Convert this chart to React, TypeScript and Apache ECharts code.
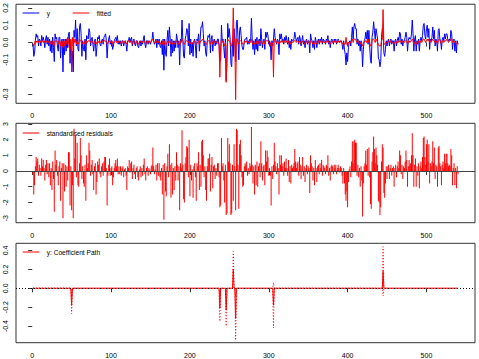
import React, { useEffect, useRef } from "react";
import * as echarts from "echarts";

const xTicks = [0, 100, 200, 300, 400, 500];
const yTicks1 = [-0.3, -0.2, -0.1, 0, 0.1, 0.2];
const yLabels1 = [-0.3, -0.1, 0, 0.1, 0.2];
const yTicks2 = [-3, -2, -1, 0, 1, 2, 3];
const yTicks3 = [-0.4, -0.2, 0, 0.2, 0.4];

const legend1 = ["y", "fitted"];
const legend2 = ["standardised residuals"];
const legend3 = ["y: Coefficient Path"];

// observed series y (t = 1..540)
const yObs = [
  -0.01, -0.08, -0.06, 0.01, 0.05, 0.03, 0.04, -0.02, 0.02, 0.01,
  -0.02, 0.04, 0.01, 0.03, 0.01, -0.03, 0.02, 0.04, -0.01, 0.03,
  -0.02, 0.02, -0.05, 0.01, -0.06, 0.03, -0.03, -0.11, 0.05, 0.02,
  0.03, -0.02, -0.05, 0.03, 0.03, -0.09, 0.01, 0.02, -0.17, 0.02,
  -0.07, 0.02, -0.05, 0.02, -0.03, 0.05, 0.06, -0.12, 0.01, -0.17,
  -0.05, -0.17, 0.07, 0.03, 0.13, -0.02, 0.08, -0.04, -0.05, 0.09,
  0.11, 0.05, -0.08, 0.01, -0.04, -0.05, 0.02, -0.10, 0.04, 0.03,
  0.02, 0.08, 0.06, -0.02, 0.02, 0.03, -0.01, -0.05, 0.01, 0.02,
  -0.08, -0.03, 0.03, 0.02, 0.04, -0.01, -0.02, 0.01, 0.02, -0.01,
  0.03, 0.04, 0.05, 0.01, -0.09, -0.01, 0.02, 0.04, -0.01, 0.01,
  0.01, -0.04, -0.02, 0.01, 0.02, 0.03, 0.01, 0.04, -0.01, 0.01,
  -0.01, 0.01, -0.02, 0.01, 0.01, -0.02, 0.00, 0.01, -0.01, -0.05,
  0.01, 0.01, 0.03, 0.00, 0.02, 0.03, -0.02, 0.01, 0.02, -0.01,
  -0.02, 0.01, 0.01, -0.02, -0.03, 0.00, 0.01, -0.02, 0.01, -0.01,
  0.02, 0.04, -0.01, -0.03, 0.01, 0.01, -0.01, 0.01, 0.00, -0.01,
  0.01, 0.02, 0.06, 0.01, -0.01, 0.00, 0.02, -0.03, 0.02, -0.01,
  0.02, -0.02, -0.03, 0.01, -0.07, 0.02, -0.16, 0.02, -0.06, -0.08,
  0.01, 0.07, -0.02, 0.09, 0.02, -0.08, 0.02, -0.06, 0.01, -0.05,
  0.01, -0.03, 0.05, 0.02, -0.03, 0.01, -0.13, 0.02, 0.01, 0.13,
  0.02, -0.08, -0.09, 0.02, 0.04, 0.08, 0.07, -0.02, 0.11, -0.07,
  0.02, -0.06, 0.00, -0.08, 0.01, 0.02, -0.02, -0.09, 0.02, 0.01,
  0.05, -0.05, 0.02, 0.09, 0.09, 0.12, 0.05, -0.02, 0.01, -0.06,
  -0.08, 0.01, 0.04, 0.03, 0.05, -0.06, 0.02, 0.04, -0.05, 0.01,
  0.02, -0.02, 0.01, -0.01, 0.02, 0.02, -0.02, -0.11, -0.10, 0.10,
  0.01, 0.02, -0.03, -0.09, 0.02, -0.22, -0.12, 0.11, 0.03, 0.08,
  0.02, -0.12, -0.14, 0.02, -0.08, 0.08, 0.01, -0.11, 0.12, 0.13,
  0.02, -0.10, 0.07, 0.09, 0.04, -0.02, -0.04, -0.04, 0.01, 0.02,
  0.02, 0.03, -0.01, 0.01, -0.01, 0.02, 0.01, 0.14, 0.02, -0.04,
  0.01, -0.07, 0.02, -0.04, 0.03, -0.05, 0.01, 0.02, -0.02, 0.08,
  0.02, -0.03, 0.01, 0.02, -0.04, 0.06, 0.03, 0.06, 0.04, -0.01,
  0.01, -0.01, -0.10, 0.01, -0.02, 0.02, 0.08, 0.03, 0.01, -0.01,
  0.02, 0.01, -0.07, 0.05, 0.02, 0.05, 0.01, 0.02, -0.01, 0.03,
  0.01, 0.04, 0.01, -0.01, 0.03, -0.03, 0.01, -0.04, 0.02, 0.01,
  0.01, 0.02, 0.06, 0.03, 0.01, 0.02, 0.03, -0.01, 0.04, 0.02,
  -0.02, 0.01, 0.04, -0.01, 0.01, -0.03, 0.01, 0.02, -0.01, 0.01,
  0.01, -0.06, 0.05, 0.02, 0.01, -0.03, 0.01, -0.04, 0.03, 0.01,
  -0.03, 0.01, 0.02, -0.01, 0.02, 0.01, 0.03, -0.01, 0.02, 0.01,
  0.01, -0.01, 0.02, 0.01, 0.04, -0.01, 0.01, -0.03, 0.01, 0.02,
  0.01, -0.01, 0.02, 0.01, 0.02, -0.01, 0.01, 0.02, 0.01, 0.00,
  0.01, 0.01, -0.01, -0.04, 0.01, -0.04, -0.07, -0.13, -0.06, -0.11,
  -0.03, 0.00, 0.01, -0.02, 0.03, 0.09, 0.02, 0.09, 0.11, 0.08,
  0.08, -0.01, 0.02, -0.02, 0.01, -0.05, 0.01, -0.03, -0.14, -0.04,
  0.01, 0.02, 0.06, 0.02, 0.07, -0.01, 0.07, -0.02, -0.10, -0.12,
  0.03, 0.06, 0.12, 0.07, 0.02, 0.08, 0.05, 0.02, -0.09, -0.10,
  -0.14, -0.11, 0.03, 0.08, 0.07, -0.06, -0.08, -0.04, 0.01, -0.02,
  0.01, 0.02, -0.02, 0.01, 0.02, -0.01, 0.01, 0.01, -0.05, 0.01,
  0.02, -0.02, 0.01, 0.03, 0.01, 0.06, 0.05, -0.01, 0.02, -0.02,
  0.01, 0.01, 0.03, 0.06, 0.03, -0.05, 0.01, 0.03, 0.02, 0.02,
  0.05, 0.13, 0.05, -0.05, 0.02, 0.04, -0.05, 0.01, -0.01, 0.02,
  -0.05, 0.01, 0.03, 0.01, 0.04, 0.10, 0.11, 0.04, 0.02, 0.08,
  0.10, 0.03, 0.08, -0.04, 0.02, 0.01, 0.03, 0.09, 0.02, 0.07,
  -0.02, 0.02, 0.01, -0.05, 0.07, 0.08, 0.02, 0.01, -0.04, 0.02,
  0.03, 0.01, 0.05, 0.02, 0.05, 0.05, 0.02, 0.01, 0.02, 0.01,
  0.07, 0.05, -0.04, 0.01, 0.02, -0.05, 0.01, -0.06, 0.01, -0.01,
];

// fitted values
const fitted = [
  -0.01, -0.02, 0.00, 0.01, 0.01, 0.00, 0.01, 0.00, 0.01, 0.01,
  0.00, 0.01, 0.01, 0.00, 0.01, 0.00, 0.01, 0.01, 0.00, 0.01,
  0.00, 0.01, -0.01, 0.00, -0.01, 0.01, 0.00, -0.02, 0.01, 0.01,
  0.01, 0.00, -0.01, 0.01, 0.01, -0.02, 0.00, 0.01, -0.03, 0.01,
  -0.02, 0.01, -0.01, 0.02, 0.03, 0.01, -0.03, -0.04, 0.02, -0.17,
  0.03, -0.02, 0.02, 0.00, 0.02, -0.01, 0.01, 0.00, -0.01, 0.02,
  0.01, 0.01, -0.01, 0.00, 0.00, -0.01, 0.01, -0.01, 0.01, 0.00,
  0.01, 0.01, 0.01, 0.00, 0.00, 0.01, 0.00, -0.01, 0.00, 0.01,
  -0.01, 0.00, 0.01, 0.00, 0.01, 0.00, 0.00, 0.01, 0.01, 0.00,
  0.01, 0.01, 0.01, 0.00, -0.01, 0.00, 0.01, 0.01, 0.00, 0.00,
  0.01, -0.01, 0.00, 0.00, 0.01, 0.01, 0.00, 0.01, 0.00, 0.01,
  0.00, 0.00, -0.01, 0.00, 0.01, 0.00, 0.00, 0.01, 0.00, -0.01,
  0.00, 0.01, 0.01, 0.00, 0.01, 0.01, -0.01, 0.00, 0.01, 0.00,
  -0.01, 0.00, 0.01, 0.00, -0.01, 0.00, 0.01, 0.00, 0.00, 0.00,
  0.01, 0.01, 0.00, -0.01, 0.00, 0.01, 0.00, 0.01, 0.00, 0.00,
  0.01, 0.01, 0.02, 0.01, 0.00, 0.00, 0.01, 0.00, 0.01, 0.00,
  0.01, 0.00, -0.01, 0.00, -0.01, 0.01, -0.02, 0.01, -0.01, -0.01,
  0.00, 0.01, 0.00, 0.01, 0.00, -0.01, 0.01, -0.01, 0.00, -0.01,
  0.00, 0.00, 0.01, 0.00, -0.01, 0.00, -0.02, 0.01, 0.00, 0.02,
  0.01, -0.01, -0.01, 0.00, 0.01, 0.01, 0.01, 0.00, 0.01, -0.01,
  0.00, -0.01, 0.00, -0.01, 0.00, 0.01, 0.00, -0.01, 0.00, 0.00,
  0.01, -0.01, 0.00, 0.01, 0.01, 0.02, 0.01, 0.00, 0.00, -0.01,
  -0.01, 0.00, 0.01, 0.01, 0.01, -0.01, 0.00, 0.01, -0.01, 0.00,
  0.01, 0.00, 0.00, 0.00, 0.01, 0.00, -0.01, -0.20, -0.02, 0.02,
  0.00, 0.01, -0.01, -0.02, 0.00, -0.23, -0.03, 0.02, 0.01, 0.01,
  0.00, -0.02, -0.02, 0.01, 0.20, 0.02, 0.00, -0.33, 0.02, 0.02,
  0.00, -0.01, 0.01, 0.01, 0.01, 0.00, -0.01, -0.01, 0.00, 0.01,
  0.00, 0.01, 0.00, 0.00, 0.00, 0.01, 0.00, 0.02, 0.00, -0.01,
  0.00, -0.01, 0.00, -0.01, 0.01, -0.01, 0.00, 0.01, 0.00, 0.01,
  0.00, -0.01, 0.00, 0.01, -0.01, 0.01, 0.01, 0.01, 0.01, 0.00,
  0.00, 0.00, -0.02, 0.00, -0.01, -0.20, 0.02, 0.01, 0.00, 0.00,
  0.01, 0.00, -0.01, 0.01, 0.00, 0.01, 0.00, 0.01, 0.00, 0.01,
  0.00, 0.01, 0.00, 0.00, 0.01, -0.01, 0.00, -0.01, 0.01, 0.00,
  0.00, 0.01, 0.01, 0.01, 0.00, 0.01, 0.01, 0.00, 0.01, 0.00,
  -0.01, 0.00, 0.01, 0.00, 0.00, -0.01, 0.00, 0.01, 0.00, 0.00,
  0.00, -0.01, 0.01, 0.01, 0.00, -0.01, 0.00, -0.01, 0.01, 0.00,
  -0.01, 0.00, 0.01, 0.00, 0.01, 0.00, 0.01, 0.00, 0.01, 0.00,
  0.00, 0.00, 0.01, 0.00, 0.01, 0.00, 0.00, -0.01, 0.00, 0.01,
  0.00, 0.00, 0.01, 0.00, 0.01, 0.00, 0.00, 0.01, 0.00, 0.00,
  0.01, 0.00, 0.00, -0.01, 0.00, -0.01, -0.01, 0.03, -0.01, -0.02,
  0.00, 0.00, 0.00, 0.00, 0.01, 0.02, 0.00, 0.02, 0.02, 0.02,
  0.01, 0.00, 0.01, 0.00, 0.00, -0.01, 0.00, -0.01, -0.02, 0.00,
  0.00, 0.01, 0.01, 0.00, 0.02, 0.00, 0.02, 0.00, -0.02, -0.02,
  0.01, 0.02, 0.02, 0.01, 0.00, 0.02, 0.01, 0.00, -0.01, -0.02,
  -0.02, -0.02, 0.01, 0.02, 0.19, -0.01, -0.01, 0.00, 0.00, 0.00,
  0.00, 0.01, 0.00, 0.00, 0.01, 0.00, 0.00, 0.00, -0.01, 0.00,
  0.01, 0.00, 0.00, 0.01, 0.00, 0.01, 0.01, 0.00, 0.01, 0.00,
  0.00, 0.00, 0.01, 0.01, 0.01, -0.01, 0.00, 0.01, 0.00, 0.01,
  0.01, 0.02, 0.01, -0.01, 0.00, 0.01, -0.01, 0.00, 0.00, 0.01,
  -0.01, 0.00, 0.01, 0.00, 0.01, 0.02, 0.02, 0.01, 0.00, 0.01,
  0.02, 0.01, 0.02, 0.00, 0.01, 0.00, 0.01, 0.02, 0.01, 0.01,
  0.00, 0.01, 0.00, -0.01, 0.01, 0.02, 0.01, 0.00, -0.01, 0.01,
  0.01, 0.00, 0.01, 0.01, 0.01, 0.02, 0.01, 0.00, 0.01, 0.01,
  0.02, 0.02, 0.00, 0.01, 0.01, 0.00, 0.00, -0.01, 0.00, -0.01,
];

// standardised residuals
const stdResid = [
  -0.2, -1.5, -0.9, 0.3, 0.9, 0.6, 0.8, -0.3, 0.4, 0.2,
  -0.3, 0.8, 0.3, 0.7, 0.2, -0.6, 0.4, 0.7, -0.2, 0.5,
  -0.4, 0.5, -0.9, 0.2, -1.2, 0.6, -0.5, -2.6, 1.3, 0.4,
  0.7, -0.3, -0.9, 0.3, 0.6, -1.9, 0.2, 0.5, -3.0, 0.5,
  -1.3, 0.4, -1.0, 0.3, -0.6, 1.2, 1.2, -2.2, 0.3, -2.5,
  -0.9, -3.0, 2.7, 0.8, 2.3, -0.4, 1.8, -0.9, -1.0, 0.5,
  2.1, 1.0, -0.5, 0.3, -0.8, -1.0, 0.4, -1.9, 1.0, 0.2,
  0.5, 1.8, 1.3, -0.3, 0.4, 0.7, -0.2, -1.2, 0.3, 0.5,
  -1.5, -0.7, 0.6, 0.4, 0.8, -0.2, -0.4, 0.3, 0.5, -0.3,
  0.6, 0.9, 0.9, 0.2, -2.2, -0.3, 0.4, 0.8, -0.3, 0.2,
  0.3, -0.9, -0.4, 0.2, 0.5, 0.7, 0.3, 0.8, -0.2, 0.3,
  -0.2, 0.3, -0.3, 0.2, 0.3, -0.4, 0.1, 0.2, -0.3, -1.2,
  0.3, 0.2, 0.7, -0.1, 0.5, 0.6, -0.5, 0.2, 0.4, -0.2,
  -0.5, 0.2, 0.3, -0.4, -0.6, 0.1, 0.3, -0.4, 0.2, -0.3,
  0.4, 0.8, -0.2, -0.6, 0.2, 0.3, -0.3, 0.2, 0.1, -0.2,
  0.3, 0.4, 1.5, 0.3, -0.2, 0.1, 0.4, -0.6, 0.5, -0.3,
  0.5, -0.4, -0.6, 0.2, -1.5, 0.4, -3.1, 0.5, -1.3, -1.6,
  0.3, 1.1, -0.4, 1.7, 0.4, -1.7, 0.5, -1.5, 0.2, -1.2,
  0.3, -0.6, 1.2, 0.4, -0.6, 0.3, -2.5, 0.5, 0.2, 2.6,
  0.4, -1.8, -2.0, 0.5, 0.9, 1.6, 1.5, -0.4, 2.0, -1.6,
  0.4, -0.6, 0.1, -1.7, 0.3, 0.5, -0.4, -1.9, 0.5, 0.3,
  1.2, -1.2, 0.4, -1.0, 1.9, 2.0, 1.0, -0.4, 0.3, -1.2,
  -1.9, 0.3, 0.8, 0.8, 1.1, -1.3, 0.4, 0.9, -1.1, 0.3,
  0.4, -0.5, 0.2, -0.3, 0.5, 0.5, -0.4, -2.3, -2.2, 2.1,
  0.3, 0.5, -0.6, -2.0, 0.4, -2.8, -2.7, 2.1, 0.6, 1.7,
  0.5, -2.8, -2.7, 0.4, -1.9, 1.7, 0.3, -2.5, 2.7, 2.6,
  0.4, -2.4, 1.7, 2.0, 1.0, -0.4, -1.0, -0.9, 0.3, 0.5,
  0.4, 0.6, -0.3, 0.2, -0.2, 0.5, 0.3, 2.8, 0.4, -0.8,
  0.3, -1.5, 0.4, -0.9, 0.6, -1.0, 0.3, 0.5, -0.4, 1.9,
  0.5, -0.6, 0.3, 0.4, -0.9, 1.3, 0.6, 1.3, 0.9, -0.3,
  0.2, -0.3, -2.2, 0.3, -0.5, 0.4, 1.8, 0.6, 0.3, -0.2,
  0.5, 0.2, -1.5, 1.0, 0.4, 1.0, 0.3, 0.5, -0.3, 0.6,
  0.2, 0.8, 0.2, -0.3, 0.7, -0.7, 0.3, -0.8, 0.4, 0.2,
  0.3, 0.5, 1.4, 0.6, 0.2, 0.5, 0.6, -0.3, 0.9, 0.4,
  -0.5, 0.3, 0.9, -0.3, 0.3, -0.7, 0.2, 0.4, -0.2, 0.3,
  0.2, -1.4, 1.0, 0.5, 0.3, -0.6, 0.2, -0.9, 0.7, 0.2,
  -0.7, 0.3, 0.4, -0.2, 0.5, 0.2, 0.7, -0.3, 0.4, 0.3,
  0.2, -0.2, 0.4, 0.3, 1.0, -0.3, 0.2, -0.6, 0.3, 0.4,
  0.3, -0.2, 0.4, 0.2, 0.4, -0.2, 0.2, 0.4, 0.2, -0.1,
  0.3, 0.2, -0.3, -0.8, 0.2, -0.8, -1.5, -1.9, -1.3, -2.3,
  -0.7, 0.1, 0.3, -0.4, 0.6, 1.9, 0.5, 1.9, 2.0, 1.8,
  1.8, -0.3, 0.4, -0.4, 0.2, -1.0, 0.3, -0.6, -2.9, -0.8,
  0.3, 0.5, 1.3, 0.4, 1.4, -0.3, 1.5, -0.4, -2.1, -2.4,
  0.6, 1.2, 2.2, 1.4, 0.5, 1.5, 1.0, 0.4, -1.9, -2.0,
  -2.8, -2.3, 0.6, 1.7, 1.5, -1.4, -1.7, -0.8, 0.3, -0.5,
  0.3, 0.4, -0.5, 0.2, 0.4, -0.3, 0.2, 0.3, -1.0, 0.2,
  0.4, -0.4, 0.3, 0.6, 0.2, 1.3, 1.0, -0.2, 0.4, -0.5,
  0.3, 0.2, 0.6, 1.3, 0.7, -1.0, 0.3, 0.7, 0.4, 0.5,
  1.0, 2.4, 1.0, -1.0, 0.4, 0.8, -1.0, 0.3, -0.3, 0.5,
  -1.1, 0.3, 0.6, 0.2, 0.9, 2.1, 2.2, 0.9, 0.4, 1.7,
  2.0, 0.6, 1.7, -0.8, 0.5, 0.3, 0.6, 1.9, 0.5, 1.5,
  -0.5, 0.4, 0.3, -1.0, 1.5, 1.6, 0.5, 0.3, -0.9, 0.4,
  0.6, 0.2, 1.1, 0.5, 1.1, 1.1, 0.5, 0.3, 0.4, 0.3,
  1.4, 1.0, -0.9, 0.2, 0.5, -0.9, 0.2, -1.1, 0.3, -0.2,
];

// coefficient path: non-zero coefficients (all others are zero)
const coefIdx = [50, 238, 246, 255, 258, 306, 445];
const coefVal = [-0.18, -0.21, -0.23, 0.2, -0.32, -0.18, 0.18];
const coefUpper = [-0.09, -0.07, -0.06, 0.39, -0.09, 0.06, 0.44];
const coefLower = [-0.27, -0.35, -0.4, 0.01, -0.55, -0.42, -0.08];
const nObs = 540;

const FONT = "'Liberation Sans', Arial, Helvetica, sans-serif";

function buildPath(vals: number[]) {
  const out: number[][] = [];
  for (let t = 1; t <= nObs; t++) {
    const k = coefIdx.indexOf(t);
    out.push([t, k >= 0 ? vals[k] : 0]);
  }
  return out;
}

export default function App() {
  const ref = useRef<HTMLDivElement>(null);
  useEffect(() => {
    if (!ref.current) return;
    const chart = echarts.init(ref.current, undefined, { renderer: "svg" });
    const xMin = -20.56;
    const xMax = 561.56;
    const gridDefs = [
      { top: 4, height: 99.3 },
      { top: 123.3, height: 99.4 },
      { top: 243.3, height: 99.4 },
    ];
    const yDefs = [
      { min: -0.351, max: 0.221, ticks: yTicks1, labels: yLabels1, fmt: (v: number) => v.toFixed(1) },
      { min: -3.29, max: 3.04, ticks: yTicks2, labels: yTicks2, fmt: (v: number) => String(v) },
      { min: -0.576, max: 0.476, ticks: yTicks3, labels: yTicks3, fmt: (v: number) => v.toFixed(1) },
    ];
    const txt = { fontSize: 7, color: "#000", fontFamily: FONT };
    const legendLine = (y: number, x1: number, x2: number, color: string) => ({
      type: "line",
      shape: { x1, y1: y, x2, y2: y },
      style: { stroke: color, lineWidth: 1 },
      silent: true,
    });
    const legendText = (y: number, x: number, text: string) => ({
      type: "text",
      x,
      y,
      style: { text, fontSize: 6.6, fill: "#000", fontFamily: FONT, verticalAlign: "middle", align: "left" },
      silent: true,
    });
    const pathData = buildPath(coefVal);
    const upperData = buildPath(coefUpper);
    const lowerData = buildPath(coefLower);

    chart.setOption({
      animation: false,
      backgroundColor: "#fff",
      grid: gridDefs.map((g) => ({
        left: 16,
        width: 459,
        top: g.top,
        height: g.height,
        show: true,
        borderColor: "#333",
        borderWidth: 1,
        backgroundColor: "rgba(0,0,0,0)",
      })),
      xAxis: [0, 1, 2].map((i) => ({
        type: "value",
        gridIndex: i,
        min: xMin,
        max: xMax,
        axisLine: { show: false },
        splitLine: { show: false },
        axisTick: { show: true, length: 4, customValues: xTicks, lineStyle: { color: "#333", width: 1 } },
        axisLabel: { show: true, customValues: xTicks, margin: 9, ...txt },
      })),
      yAxis: yDefs.map((d, i) => ({
        type: "value",
        gridIndex: i,
        min: d.min,
        max: d.max,
        axisLine: { show: false },
        splitLine: { show: false },
        axisTick: { show: true, length: 4, customValues: d.ticks, lineStyle: { color: "#333", width: 1 } },
        axisLabel: { show: true, customValues: d.labels, rotate: 90, margin: 7, formatter: d.fmt, ...txt },
      })),
      series: [
        {
          type: "line",
          xAxisIndex: 0,
          yAxisIndex: 0,
          data: yObs.map((v, i) => [i + 1, v]),
          showSymbol: false,
          symbol: "none",
          lineStyle: { color: "#0000FF", width: 1 },
          itemStyle: { color: "#0000FF" },
          silent: true,
        },
        {
          type: "line",
          xAxisIndex: 0,
          yAxisIndex: 0,
          data: fitted.map((v, i) => [i + 1, v]),
          showSymbol: false,
          symbol: "none",
          lineStyle: { color: "#FF0000", width: 1 },
          itemStyle: { color: "#FF0000" },
          silent: true,
        },
        {
          type: "bar",
          xAxisIndex: 1,
          yAxisIndex: 1,
          data: stdResid.map((v, i) => [i + 1, v]),
          barWidth: 1,
          itemStyle: { color: "#FF0000" },
          silent: true,
          markLine: {
            silent: true,
            symbol: ["none", "none"],
            label: { show: false },
            lineStyle: { color: "#444", width: 1, type: "solid" },
            data: [{ yAxis: 0 }],
          },
        },
        {
          type: "line",
          xAxisIndex: 2,
          yAxisIndex: 2,
          data: upperData,
          showSymbol: false,
          symbol: "none",
          lineStyle: { color: "#FF0000", width: 1, type: [1, 2] },
          silent: true,
        },
        {
          type: "line",
          xAxisIndex: 2,
          yAxisIndex: 2,
          data: lowerData,
          showSymbol: false,
          symbol: "none",
          lineStyle: { color: "#FF0000", width: 1, type: [1, 2] },
          silent: true,
        },
        {
          type: "line",
          xAxisIndex: 2,
          yAxisIndex: 2,
          data: pathData,
          showSymbol: false,
          symbol: "none",
          lineStyle: { color: "#FF0000", width: 1 },
          silent: true,
          markLine: {
            silent: true,
            symbol: ["none", "none"],
            label: { show: false },
            lineStyle: { color: "#000", width: 1, type: [1, 2] },
            data: [{ yAxis: 0 }],
          },
        },
      ],
      graphic: [
        legendLine(13, 22.7, 39.3, "#0000FF"),
        legendText(13.5, 46.7, legend1[0]),
        legendLine(13, 72.7, 89.3, "#FF0000"),
        legendText(13.5, 96.7, legend1[1]),
        legendLine(133, 22.7, 39.3, "#FF0000"),
        legendText(133.3, 46.7, legend2[0]),
        legendLine(252, 22.7, 39.3, "#FF0000"),
        legendText(252, 46.7, legend3[0]),
      ],
    });
    return () => chart.dispose();
  }, []);
  return (
    <div
      ref={ref}
      style={{ position: "absolute", left: 0, top: 0, width: 479, height: 359, background: "#fff" }}
    />
  );
}
